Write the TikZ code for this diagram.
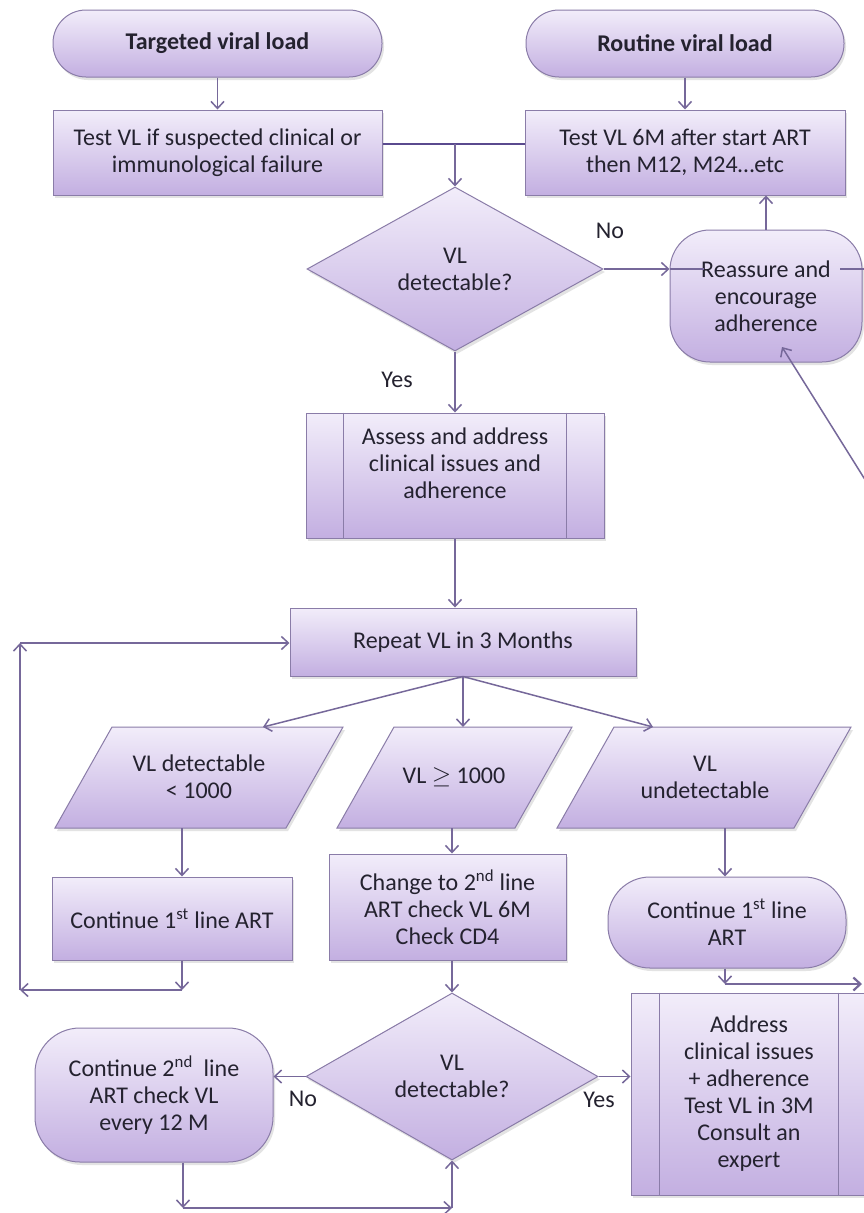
\documentclass[tikz,border=0pt]{standalone}
\usepackage{fontspec}
\setmainfont{Carlito}
\usetikzlibrary{arrows.meta,shapes.geometric,shadows}
\definecolor{lavtop}{HTML}{F2EDFA}
\definecolor{lavbot}{HTML}{C3AFE1}
\definecolor{bordc}{HTML}{8A7CA8}
\definecolor{linec}{HTML}{76689A}
\definecolor{darkline}{HTML}{5A4A8E}
\definecolor{textc}{HTML}{24222F}
\newcommand{\myfs}{\fontsize{24pt}{27pt}\selectfont}
\begin{document}
\begin{tikzpicture}[x=1pt,y=1pt,
  shp/.style={draw=bordc,line width=1pt,top color=lavtop,bottom color=lavbot,
    drop shadow={shadow xshift=2pt,shadow yshift=-3pt,opacity=0.22}},
  txt/.style={text=textc,font=\myfs,align=center,inner sep=0pt},
  box/.style={shp,txt,rectangle},
  innerln/.style={draw=bordc,line width=1pt},
  arr/.style={draw=linec,line width=1.5pt,-{Straight Barb[length=7pt,width=13pt]}},
  ln/.style={draw=linec,line width=1.5pt}]
\useasboundingbox (0,0) rectangle (864,-1213);
\clip (0,0) rectangle (864,-1213);
\fill[white] (0,0) rectangle (864,-1213);

% top
\node[box,rounded corners=33pt,minimum width=329pt,minimum height=67pt,font=\myfs\bfseries] (tgt) at (217.5,-43.5) {Targeted viral load};
\node[box,rounded corners=33pt,minimum width=318pt,minimum height=67pt,font=\myfs\bfseries] (rtn) at (685,-43.5) {Routine viral load};
\node[box,minimum width=329pt,minimum height=85pt] (t1) at (217.5,-152.5) {Test VL if suspected clinical or\\immunological failure};
\node[box,minimum width=320pt,minimum height=85pt] (t2) at (685,-152.5) {Test VL 6M after start ART\\then M12, M24…etc};
\draw[arr] (tgt) -- (t1);
\draw[arr] (rtn) -- (t2);
\coordinate (jn) at (455,-144);
\draw[darkline,line width=2.4pt] (t1.east |- jn) -- (t2.west |- jn);

% first decision
\node[shp,txt,diamond,minimum width=296pt,minimum height=164pt] (d1) at (455,-269) {VL\\detectable?};
\draw[arr] (jn) -- (d1.north);
\node[box,rounded corners=40pt,minimum width=192pt,minimum height=132pt] (rea) at (766,-296) {Reassure and\\encourage\\adherence};
\draw[arr] (d1.east) -- (d1.east -| rea.west);
\coordinate (rtxt) at (840,-269);
\coordinate (redge) at (864,-269);
\draw[ln] (d1.east -| rea.west) -- ++(34,0);
\draw[ln] (rtxt) -- (redge);
\draw[arr] (rea.north) -- (rea.north |- t2.south);
\node[txt] (no1) at (610,-231) {No};
\node[txt] (yes1) at (397,-380) {Yes};
\coordinate (dg) at (900,-535.5);
\coordinate (dgend) at (782,-347);
\draw[arr] (dg) -- (dgend);

% assess
\node[box,minimum width=298pt,minimum height=125pt] (ass) at (455,-475.5) {};
\draw[innerln] ([xshift=38pt]ass.north west) -- ([xshift=38pt]ass.south west);
\draw[innerln] ([xshift=-38pt]ass.north east) -- ([xshift=-38pt]ass.south east);
\node[txt] (asst) at (455,-463) {Assess and address\\clinical issues and\\adherence};
\draw[arr] (d1.south) -- (ass.north);

% repeat
\node[box,minimum width=346pt,minimum height=68pt] (rep) at (463,-642) {Repeat VL in 3 Months};
\draw[arr] (ass.south) -- (ass.south |- rep.north);

% parallelograms
\path[shp] (112,-727) -- (343,-727) -- (286,-828) -- (55,-828) -- cycle;
\node[txt] (p1) at (199,-777) {VL detectable\\< 1000};
\path[shp] (394,-727) -- (572,-727) -- (515,-828) -- (337,-828) -- cycle;
\node[txt] (p2) at (454,-777) {VL $\geq$ 1000};
\path[shp] (614,-727) -- (851,-727) -- (794,-828) -- (557,-828) -- cycle;
\node[txt] (p3) at (705,-777) {VL\\undetectable};
\coordinate (p1in) at (263,-727);
\coordinate (p2in) at (463,-727);
\coordinate (p3in) at (653,-727);
\coordinate (p1out) at (182,-828);
\coordinate (p2out) at (452,-828);
\coordinate (p3out) at (725,-828);
\draw[arr] (rep.south) -- (p1in);
\draw[arr] (rep.south) -- (p2in);
\draw[arr] (rep.south) -- (p3in);

% second row
\node[box,minimum width=240pt,minimum height=83pt] (c1) at (172,-918.5) {Continue 1\textsuperscript{st} line ART};
\node[box,minimum width=237pt,minimum height=106pt] (chg) at (447.5,-907) {Change to 2\textsuperscript{nd} line\\ART check VL 6M\\Check CD4};
\node[box,rounded corners=42pt,minimum width=238pt,minimum height=91pt] (c1b) at (727,-922.5) {Continue 1\textsuperscript{st} line\\ART};
\draw[arr] (p1out) -- (p1out |- c1.north);
\draw[arr] (p2out) -- (p2out |- chg.north);
\draw[arr] (p3out) -- (p3out |- c1b.north);

% left loop
\coordinate (l1) at (182,-990);
\coordinate (l2) at (20,-990);
\coordinate (l3) at (20,-643);
\draw[arr] (c1.south -| l1) -- (l1);
\draw[arr] (l1) -- (l2);
\draw[arr] (l2) -- (l3);
\draw[arr] (l3) -- (l3 -| rep.west);

% right exit
\coordinate (r1) at (725,-984);
\coordinate (r2) at (862,-984);
\draw[arr] (c1b.south -| r1) -- (r1);
\draw[arr,line width=2.2pt] (r1) -- (r2);

% second decision
\node[shp,txt,diamond,minimum width=292pt,minimum height=167pt] (d2) at (452,-1076.5) {VL\\detectable?};
\draw[arr] (chg.south -| d2.north) -- (d2.north);
\node[box,rounded corners=45pt,minimum width=238pt,minimum height=134pt] (c2) at (154,-1095) {Continue 2\textsuperscript{nd}\ \ line\\ART check VL\\every 12 M};
\draw[arr] (d2.west) -- (d2.west -| c2.east);
\node[txt] (no2) at (303,-1099) {No};
\node[box,minimum width=236pt,minimum height=202pt] (adr) at (749,-1094) {Address\\clinical issues\\+ adherence\\Test VL in 3M\\Consult an\\expert};
\draw[innerln] ([xshift=29pt]adr.north west) -- ([xshift=29pt]adr.south west);
\draw[innerln] ([xshift=-29pt]adr.north east) -- ([xshift=-29pt]adr.south east);
\draw[arr] (d2.east) -- (d2.east -| adr.west);
\node[txt] (yes2) at (599,-1100) {Yes};

% bottom loop
\coordinate (b1) at (183,-1208);
\coordinate (b2) at (452,-1208);
\draw[arr] (c2.south -| b1) -- (b1);
\draw[arr] (b1) -- (b2);
\draw[arr] (b2) -- (d2.south);
\end{tikzpicture}
\end{document}
